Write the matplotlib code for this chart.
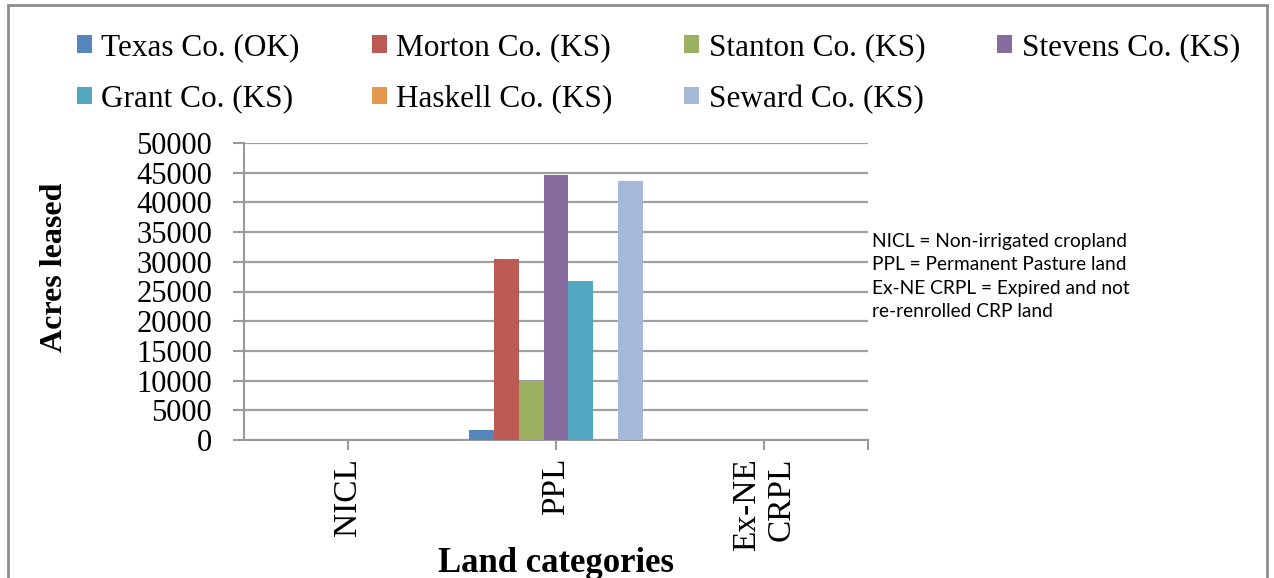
import matplotlib
matplotlib.use("Agg")
import matplotlib.pyplot as plt
import numpy as np
from matplotlib.patches import Rectangle

plt.rcParams['font.family'] = ['Liberation Serif', 'DejaVu Serif']

categories = ["NICL", "PPL", "Ex-NE\nCRPL"]
counties = ["Texas Co. (OK)", "Morton Co. (KS)", "Stanton Co. (KS)", "Stevens Co. (KS)",
            "Grant Co. (KS)", "Haskell Co. (KS)", "Seward Co. (KS)"]
colors = ["#5585BD", "#BB5B53", "#9BB060", "#876CA0", "#52A8C0", "#E6994E", "#A4B8DA"]

# acres leased per county, for NICL / PPL / Ex-NE CRPL
texas = [0, 1700, 0]
morton = [0, 30500, 0]
stanton = [0, 10000, 0]
stevens = [0, 44600, 0]
grant = [0, 26800, 0]
haskell = [0, 0, 0]
seward = [0, 43600, 0]
series = [texas, morton, stanton, stevens, grant, haskell, seward]

notes = ["NICL = Non-irrigated cropland",
         "PPL = Permanent Pasture land",
         "Ex-NE CRPL = Expired and not",
         "re-renrolled CRP land"]

fig = plt.figure(figsize=(12.74, 5.78), dpi=100)
ax = fig.add_axes([244 / 1274, 1 - 440 / 578, (868 - 244) / 1274, (440 - 143) / 578])

x = np.arange(len(categories))
w = 0.12
bars = []
for i, (vals, name, c) in enumerate(zip(series, counties, colors)):
    bars.append(ax.bar(x + (i - 3) * w, vals, width=w, color=c, label=name, zorder=3))

ax.set_xlim(-0.5, 2.5)
ax.set_ylim(0, 50000)
ax.set_yticks(np.arange(0, 50001, 5000))
ax.set_xticks([0, 1, 2, 2.5])
ax.set_xticklabels(categories + [""], rotation=90, fontsize=24, multialignment='right')
ax.tick_params(axis='y', labelsize=22, length=8, width=1.5, color='#999999', pad=15)
ax.tick_params(axis='x', length=7, width=1.5, color='#999999', pad=6)
ax.yaxis.grid(True, color='#a0a0a0', linewidth=1.6, zorder=0)
ax.set_axisbelow(True)
for s in ['top', 'right']:
    ax.spines[s].set_visible(False)
for s in ['left', 'bottom']:
    ax.spines[s].set_color('#999999')
    ax.spines[s].set_linewidth(1.5)

ax.set_ylabel("Acres leased", fontsize=23, fontweight='bold')
ax.yaxis.set_label_coords(-0.281, 0.58)
ax.set_xlabel("Land categories", fontsize=25, fontweight='bold')
ax.xaxis.set_label_coords(0.5, -0.36)

# legend reads row by row like the original, matplotlib fills columns first
order = [0, 4, 1, 5, 2, 6, 3]
fig.legend([bars[i] for i in order], [counties[i] for i in order],
           loc='upper left', bbox_to_anchor=(77 / 1274, 1 - 33 / 578), ncol=4, frameon=False,
           fontsize=22.5, handlelength=0.48, handleheight=0.48, handletextpad=0.3,
           columnspacing=2.3, labelspacing=0.72, borderpad=0, borderaxespad=0)

ys = [247, 270, 294, 317]
for t, yy in zip(notes, ys):
    fig.text(872 / 1274, 1 - yy / 578, t, fontsize=13.8, family=['Lato', 'DejaVu Sans'], va='baseline')

fig.patches.append(Rectangle((8 / 1274, -0.05), (1267 - 8) / 1274, 1.05 - 5 / 578,
                             transform=fig.transFigure, fill=False, edgecolor='#8c8c8c',
                             linewidth=2, figure=fig))

fig.savefig("out.png", dpi=100)
